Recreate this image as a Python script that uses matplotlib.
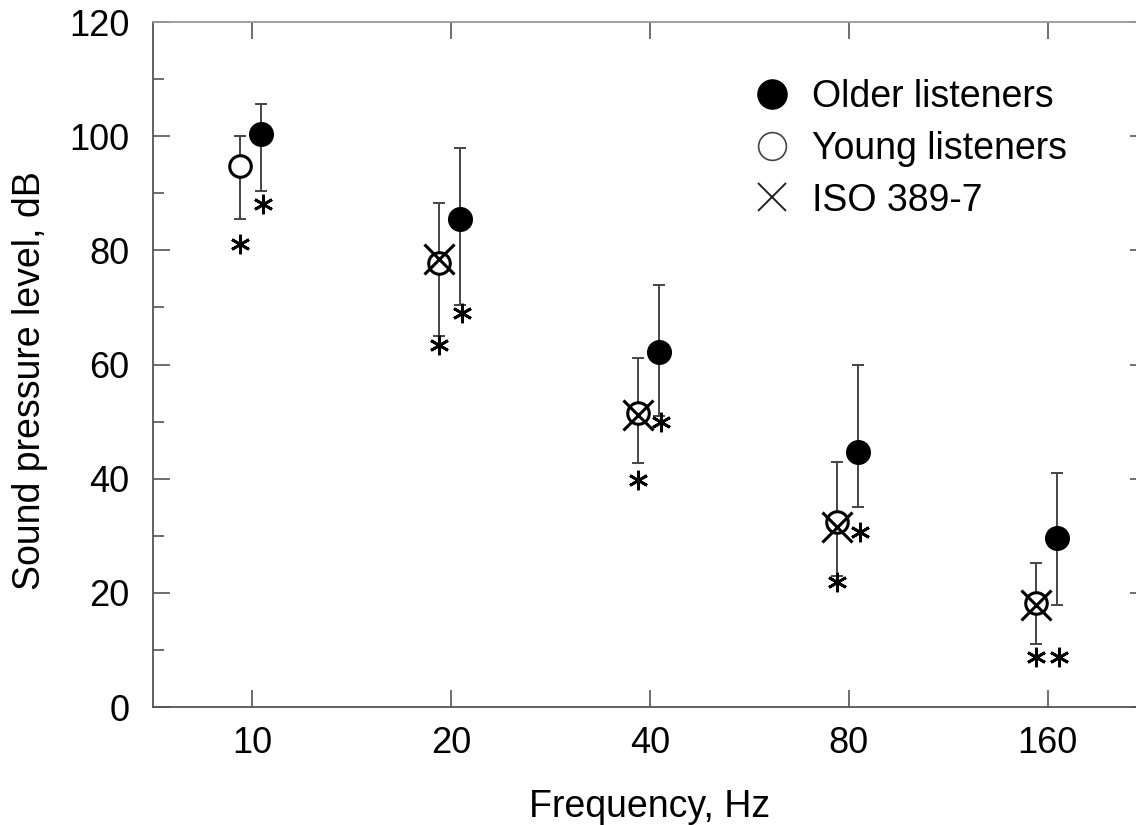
import numpy as np
import matplotlib
matplotlib.use('Agg')
import matplotlib.pyplot as plt
from matplotlib.lines import Line2D

plt.rcParams['font.family'] = ['Liberation Sans', 'DejaVu Sans']

# data (dB SPL)
freqs = ['10', '20', '40', '80', '160']
older = [100.4, 85.5, 62.2, 44.7, 29.6]
older_hi = [105.6, 97.9, 73.9, 59.9, 41.0]
older_lo = [90.4, 70.5, 51.0, 35.0, 17.9]
young = [94.7, 77.8, 51.5, 32.4, 18.2]
young_hi = [100.0, 88.3, 61.1, 42.9, 25.2]
young_lo = [85.5, 65.0, 42.7, 23.0, 11.0]
iso = [np.nan, 78.5, 51.1, 31.5, 17.9]
star_young = [81.2, 63.5, 39.8, 21.9, 8.8]
star_older = [88.1, 69.0, 50.0, 30.6, 8.8]

x = np.arange(len(freqs))
xo = x + 0.045
xy = x - 0.06

fig = plt.figure(figsize=(11.36, 8.25), dpi=100)
ax = fig.add_axes([0.1347, 0.143, 0.875, 0.8303])

ebc = '#444444'
ax.errorbar(xo, older, yerr=[np.array(older) - np.array(older_lo), np.array(older_hi) - np.array(older)],
            fmt='none', ecolor=ebc, elinewidth=1.4, capsize=4.5, capthick=1.4, zorder=1)
ax.errorbar(xy, young, yerr=[np.array(young) - np.array(young_lo), np.array(young_hi) - np.array(young)],
            fmt='none', ecolor=ebc, elinewidth=1.4, capsize=4.5, capthick=1.4, zorder=1)

ax.plot(xo, older, 'o', ms=17, mfc='black', mec='black', zorder=3)
ax.plot(xy, young, 'o', ms=15.5, mfc='white', mec='black', mew=2.2, zorder=3)
ax.plot(xy, iso, 'x', ms=22, mec='black', mew=2.2, zorder=4)

ast = (6, 2, 0)
ax.plot(xy, star_young, ls='none', marker=ast, ms=14, mec='black', mew=2.0, zorder=4)
ax.plot(xo + 0.01, star_older, ls='none', marker=ast, ms=14, mec='black', mew=2.0, zorder=4)

ax.set_xlim(-0.5, 4.5)
ax.set_ylim(0, 120)
ax.set_xticks(x)
ax.set_xticklabels(freqs)
ax.set_yticks(np.arange(0, 121, 20))
ax.set_yticks(np.arange(0, 121, 10), minor=True)

for s in ax.spines.values():
    s.set_color('#555555')
    s.set_linewidth(1.3)
ax.spines['top'].set_color('#999999')
ax.spines['right'].set_color('#999999')

ax.tick_params(axis='both', which='both', direction='in', colors='#555555',
               labelcolor='black', labelsize=26, top=True, right=True, width=1.2)
ax.tick_params(axis='both', which='major', length=12)
ax.tick_params(axis='y', which='minor', length=8)
ax.tick_params(axis='y', which='major', pad=17)
ax.tick_params(axis='x', which='major', pad=14)

ax.set_xlabel('Frequency, Hz', fontsize=27, labelpad=20)
ax.set_ylabel('Sound pressure level, dB', fontsize=27)
ax.yaxis.set_label_coords(-0.106, 0.477)

handles = [
    Line2D([], [], ls='none', marker='o', ms=21, mfc='black', mec='black'),
    Line2D([], [], ls='none', marker='o', ms=20, mfc='white', mec='#444444', mew=1.2),
    Line2D([], [], ls='none', marker='x', ms=20, mec='#222222', mew=1.4),
]
ax.legend(handles, ['Older listeners', 'Young listeners', 'ISO 389-7'],
          loc='upper left', bbox_to_anchor=(0.574, 0.955), frameon=False,
          fontsize=27, handlelength=1.2, handletextpad=0.45, labelspacing=0.42, borderpad=0.2)

fig.savefig('out.png', dpi=100)
